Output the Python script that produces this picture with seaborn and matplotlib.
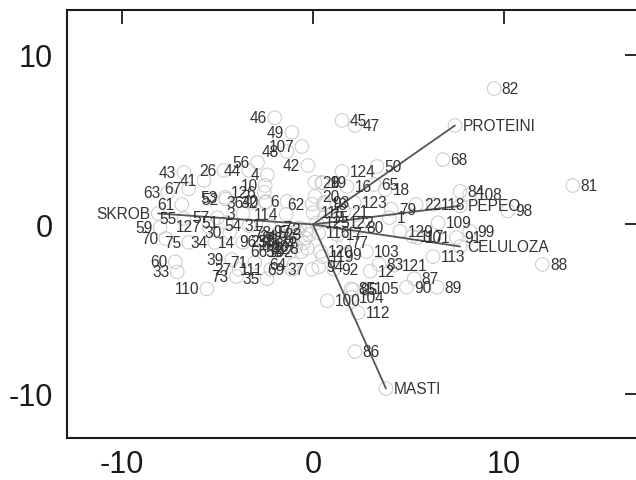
import seaborn as sns
import matplotlib.pyplot as plt
import pandas as pd


# ---------- DATA ---------- #

sample_ids = list(range(1, 130))

pc1 = [
    4.0, -0.3, -3.66, -2.39, -1.0, -1.36, -0.7, 0.5, 1.68, -2.5,
    -1.3, 3.0, 0.55, -3.66, 0.6, 1.78, 1.3, 3.77, 0.47, 0.1,
    1.6, 5.4, -0.2, -1.5, -2.0, -4.66, -3.87, -0.9, 0.1, -4.35,
    -2.3, -2.5, -7.1, -5.13, -2.4, -3.2, -0.05, -1.6, -4.25, -2.45,
    -5.7, -0.26, -6.75, -3.35, 1.52, -2.0, 2.2, -1.36, -1.1, 3.35,
    -4.55, -4.55, -4.6, -3.35, -6.75, -2.9, -5.0, -1.2, -8.0, -7.2,
    -6.86, -0.05, -7.6, -1.0, 3.2, -2.0, -6.5, 6.8, -1.1, -7.7,
    -3.04, -1.2, -4.0, -0.5, -6.5, -0.4, 1.6, -1.8, 4.1, 2.4,
    13.6, 9.48, 3.45, 7.7, 2.0, 2.2, 5.3, 12.0, 6.5, 4.9,
    7.5, 1.1, 0.6, 0.3, 2.1, -2.57, -0.8, 10.2, 8.2, 0.75,
    5.45, -0.6, 2.8, 2.0, 2.8, -1.1, -0.58, 8.2, 6.55, -5.55,
    -2.2, 2.36, 6.28, -1.4, 0.0, 0.3, 5.2, 6.3, 0.5, 0.4,
    4.24, 1.5, 2.15, 1.52, 0.2, -2.55, -5.45, -0.3, 4.55,
]

pc2 = [
    0.4, -0.3, 0.65, 2.93, -0.5, 1.36, -0.2, 2.45, -1.77, 2.3,
    -0.9, -2.75, 1.2, -1.06, 0.4, 2.24, -0.6, 2.06, 2.48, 1.65,
    0.77, 1.18, -0.6, -0.7, -1.0, 3.19, -2.65, -1.3, 2.5, -0.47,
    -0.06, 1.3, -2.8, -1.06, -3.2, 1.3, -2.65, -1.0, -2.07, 1.35,
    2.6, 3.48, 3.07, 3.19, 6.14, 6.3, 5.84, 4.3, 5.43, 3.42,
    0.1, 1.5, 1.6, -0.06, 0.35, 3.65, 0.4, -1.6, -0.18, -2.2,
    1.18, 1.2, 1.89, -2.36, 2.36, -1.6, 2.1, 3.83, -2.65, -0.83,
    -2.24, -0.8, -3.07, -1.1, -1.06, -0.8, -1.06, -0.5, 0.9, -0.18,
    2.3, 8.02, -2.36, 1.95, -3.8, -7.5, -3.2, -2.36, -3.7, -3.7,
    -0.77, -2.65, 1.3, -2.5, -3.85, -1.0, -0.4, 0.8, -0.4, -4.5,
    -0.77, -1.6, -1.6, -4.3, -3.8, -1.2, 4.6, 1.76, 0.1, -3.8,
    -2.65, -5.2, -1.9, 0.6, 0.7, -0.5, -0.7, 1.18, -1.9, -1.6,
    -2.4, 0.1, 1.3, 3.13, 0.1, 1.9, -0.12, -1.4, -0.4,
]

var_names = ["SKROB", "PROTEINI", "PEPEO", "CELULOZA", "MASTI"]
var_x = [-8.1, 7.43, 7.7, 7.7, 3.82]
var_y = [0.65, 5.84, 1.1, -1.3, -9.68]


# ---------- PLOT ---------- #

sns.set_style("white")
plt.rcParams["font.family"] = ["Liberation Sans", "DejaVu Sans"]
plt.rcParams["axes.unicode_minus"] = False

points = pd.DataFrame({"id": sample_ids, "x": pc1, "y": pc2})
loads = pd.DataFrame({"name": var_names, "x": var_x, "y": var_y})

fig = plt.figure(figsize=(6.36, 4.81), dpi=100)
ax = fig.add_axes([0.105, 0.0873, 0.9, 0.8897])

# loading vectors from the origin
for _, row in loads.iterrows():
    ax.plot([0, row.x], [0, row.y], color="#555555", lw=1.3, zorder=2)

sns.scatterplot(data=points, x="x", y="y", ax=ax, s=95, marker="o",
                facecolors="none", edgecolor="#cccccc", linewidth=0.75, zorder=1)
sns.scatterplot(data=loads, x="x", y="y", ax=ax, s=95, marker="o",
                facecolors="none", edgecolor="#cccccc", linewidth=0.75, zorder=1)

# labels: left of the circle for negative x, right otherwise
def put_label(x, y, txt):
    dx = -5.5 if x < 0 else 5.5
    ax.annotate(str(txt), (x, y), xytext=(dx, 0), textcoords="offset points",
                ha="right" if x < 0 else "left", va="center",
                fontsize=11.2, color="#333333", zorder=3)

for _, row in points.iterrows():
    put_label(row.x, row.y, int(row.id))
for _, row in loads.iterrows():
    put_label(row.x, row.y, row["name"])

ax.set_xlim(-12.88, 17.07)
ax.set_ylim(-12.6, 12.65)
ax.set_xticks([-10, 0, 10])
ax.set_yticks([-10, 0, 10])
ax.set_xlabel("")
ax.set_ylabel("")

ax.tick_params(direction="in", length=10, width=1.3, top=True, right=True,
               labelsize=22, colors="#1a1a1a")
ax.tick_params(axis="x", pad=8)
ax.tick_params(axis="y", pad=10)
for sp in ax.spines.values():
    sp.set_linewidth(1.5)
    sp.set_color("#1a1a1a")

plt.savefig("out.png", dpi=100)
plt.close()
